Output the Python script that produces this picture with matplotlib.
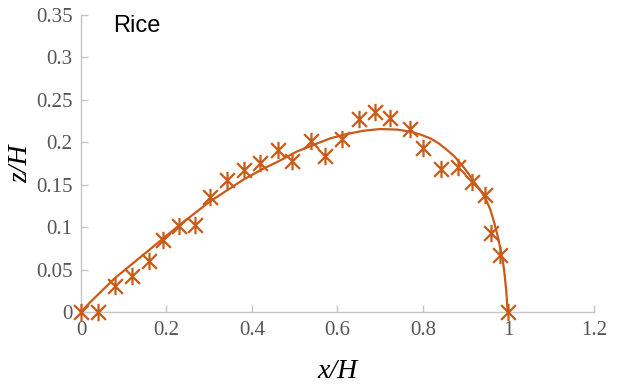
import matplotlib
matplotlib.use("Agg")
import matplotlib.pyplot as plt
from matplotlib.path import Path

# measured points (x/H, z/H)
pts_x = [0.0, 0.040, 0.079, 0.119, 0.159, 0.192, 0.229, 0.266, 0.301, 0.341,
         0.381, 0.418, 0.460, 0.493, 0.537, 0.570, 0.610, 0.650, 0.687, 0.722,
         0.769, 0.800, 0.842, 0.881, 0.915, 0.944, 0.958, 0.981, 0.998]
pts_z = [0.0, 0.0, 0.031, 0.043, 0.060, 0.085, 0.101, 0.103, 0.135, 0.156,
         0.167, 0.175, 0.191, 0.178, 0.202, 0.184, 0.204, 0.227, 0.235, 0.229,
         0.2155, 0.1935, 0.168, 0.171, 0.1535, 0.138, 0.093, 0.067, 0.0]

# fitted curve
curve_x = [0.0, 0.02, 0.079, 0.159, 0.229, 0.301, 0.38, 0.427, 0.46, 0.505,
           0.54, 0.583, 0.62, 0.661, 0.70, 0.74, 0.77, 0.795, 0.817, 0.837,
           0.856, 0.873, 0.888, 0.904, 0.919, 0.933, 0.946, 0.957, 0.966,
           0.974, 0.981, 0.987, 0.991, 0.995, 0.998]
curve_z = [0.0, 0.011, 0.040, 0.073, 0.102, 0.130, 0.156, 0.169, 0.177, 0.189,
           0.196, 0.2045, 0.2095, 0.2135, 0.2155, 0.2148, 0.2125, 0.2088, 0.2046, 0.1985,
           0.191, 0.1835, 0.175, 0.1648, 0.1535, 0.1445, 0.134, 0.1215, 0.1065,
           0.091, 0.075, 0.060, 0.044, 0.024, 0.0]

xticks = [0, 0.2, 0.4, 0.6, 0.8, 1, 1.2]
xticklabels = ["0", "0.2", "0.4", "0.6", "0.8", "1", "1.2"]
yticks = [0, 0.05, 0.1, 0.15, 0.2, 0.25, 0.3, 0.35]
yticklabels = ["0", "0.05", "0.1", "0.15", "0.2", "0.25", "0.3", "0.35"]

color = "#C95A17"
serif = ["Liberation Serif", "DejaVu Serif"]

# asterisk marker: X plus a vertical bar
d = 0.85
ast = Path([(0, -1), (0, 1), (-d, -d), (d, d), (-d, d), (d, -d)],
           [Path.MOVETO, Path.LINETO, Path.MOVETO, Path.LINETO,
            Path.MOVETO, Path.LINETO])

fig = plt.figure(figsize=(6.21, 3.89), dpi=100)
ax = fig.add_axes([0.1304, 0.1974, 0.8261, 0.7648])

ax.plot(curve_x, curve_z, color=color, lw=1.6, clip_on=False, zorder=2,
        solid_joinstyle="round")
ax.plot(pts_x, pts_z, linestyle="none", marker=ast, markersize=12.5,
        markeredgewidth=1.6, color=color, clip_on=False, zorder=3)

ax.set_xlim(0, 1.2)
ax.set_ylim(0, 0.35)
ax.set_xticks(xticks)
ax.set_xticklabels(xticklabels)
ax.set_yticks(yticks)
ax.set_yticklabels(yticklabels)

for s in ["top", "right"]:
    ax.spines[s].set_visible(False)
for s in ["left", "bottom"]:
    ax.spines[s].set_color("#c4c4c4")
    ax.spines[s].set_linewidth(1.0)

ax.tick_params(direction="in", length=5, width=1.0, color="#c4c4c4",
               labelcolor="#555555", labelsize=15, pad=6)
for lab in ax.get_xticklabels() + ax.get_yticklabels():
    lab.set_family(serif)

ax.set_xlabel("x/H", fontsize=20, family=serif, style="italic", labelpad=14)
ax.set_ylabel("z/H", fontsize=20, family=serif, style="italic", labelpad=2)

ax.text(0.062, 0.942, "Rice", transform=ax.transAxes, fontsize=17,
        family=["Liberation Sans", "DejaVu Sans"], va="baseline", ha="left")

fig.savefig("out.png", dpi=100)
